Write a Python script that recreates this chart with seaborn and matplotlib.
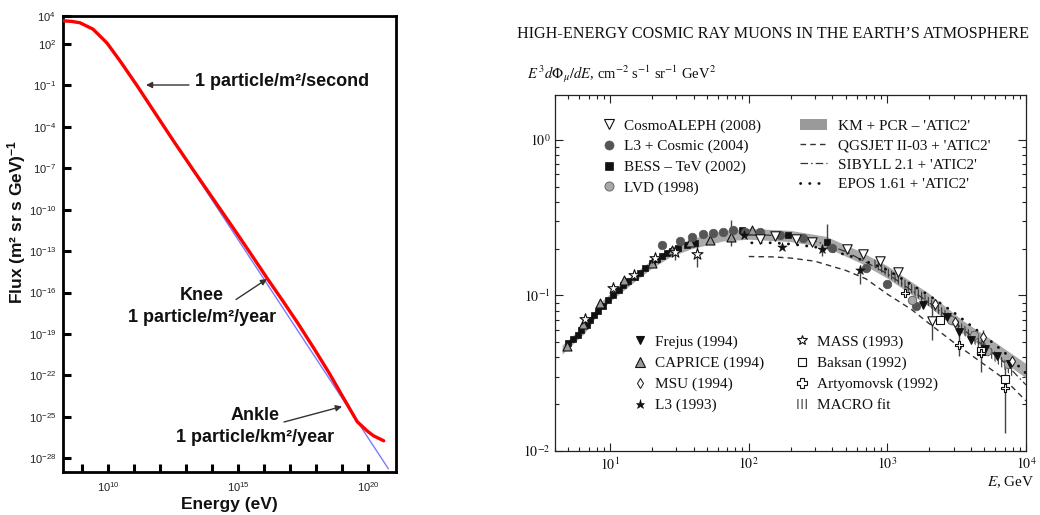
import numpy as np
import matplotlib
matplotlib.use("Agg")
import matplotlib.pyplot as plt
import seaborn as sns
from matplotlib.lines import Line2D
from matplotlib.patches import Patch
from matplotlib.ticker import FixedLocator, FixedFormatter, NullLocator, NullFormatter, LogLocator
from matplotlib.font_manager import FontProperties

sns.set_theme(style="white")
plt.rcParams["font.family"] = ["Liberation Sans", "DejaVu Sans"]
plt.rcParams["mathtext.fontset"] = "custom"
plt.rcParams["mathtext.rm"] = "Liberation Sans"
plt.rcParams["mathtext.it"] = "Liberation Sans:italic"
plt.rcParams["mathtext.bf"] = "Liberation Sans:bold"
plt.rcParams["hatch.linewidth"] = 0.8

# ---------------- left panel data (log10 values) -------------
spec_logE = [8.30, 8.60, 8.92, 9.42, 9.69, 9.96, 10.46, 11.12, 11.73, 12.50, 13.30, 14.0,
             14.96, 15.5, 16.12, 16.7, 17.3, 17.9, 18.5, 19.1, 19.57, 19.95, 20.2, 20.59]
spec_logF = [3.68, 3.64, 3.54, 3.08, 2.58, 2.07, 0.78, -1.03, -2.78, -4.98, -7.20, -9.11,
             -11.74, -13.24, -14.99, -16.57, -18.25, -20.02, -21.85, -23.82, -25.35, -26.02,
             -26.38, -26.74]
pl_logE = [11.12, 20.77]
pl_logF = [-1.03, -28.77]
left_xtick_exp = list(range(9, 21))
left_xlabel_exp = [10, 15, 20]
left_ytick_exp = [4, 2, -1, -4, -7, -10, -13, -16, -19, -22, -25, -28]

# ---------------- right panel data ----------------
band_E = [4.5, 5, 6.5, 8.7, 10.5, 15, 20, 27, 38, 65, 100, 200, 360, 630, 1000, 2000, 3500, 6200, 10000]
band_lo = [0.042, 0.046, 0.057, 0.082, 0.095, 0.123, 0.150, 0.177, 0.199, 0.224, 0.230, 0.222,
           0.204, 0.163, 0.129, 0.085, 0.057, 0.040, 0.0295]
band_hi = [0.048, 0.052, 0.065, 0.092, 0.107, 0.139, 0.170, 0.203, 0.231, 0.262, 0.270, 0.262,
           0.240, 0.193, 0.155, 0.103, 0.069, 0.049, 0.0365]

qgs_E = [100, 150, 200, 300, 500, 700, 1000, 1500, 2000, 3000, 5000, 7000, 10000]
qgs_F = [0.178, 0.177, 0.174, 0.166, 0.145, 0.128, 0.102, 0.081, 0.066, 0.050, 0.036, 0.029, 0.021]
sib_E = [100, 200, 300, 500, 1000, 2000, 3000, 5000, 7000, 10000]
sib_F = [0.248, 0.240, 0.224, 0.192, 0.138, 0.090, 0.068, 0.047, 0.037, 0.0266]
epos_E = [105, 150, 200, 300, 500, 700, 1000, 2000, 3000, 5000, 7000, 10000]
epos_F = [0.218, 0.218, 0.214, 0.205, 0.183, 0.166, 0.146, 0.100, 0.078, 0.055, 0.043, 0.0316]

macro_E = [800, 1000, 1500, 2000, 3000, 5000, 8000]
macro_lo = [0.152, 0.132, 0.103, 0.085, 0.063, 0.043, 0.030]
macro_hi = [0.172, 0.150, 0.118, 0.097, 0.073, 0.050, 0.035]

aleph_E = [120, 155, 220, 285, 510, 670, 885, 1190, 2100]
aleph_F = [0.232, 0.240, 0.232, 0.220, 0.200, 0.185, 0.167, 0.141, 0.069]
l3c_E = [23.5, 31.9, 38.7, 47, 55.5, 65.4, 77.3, 94, 120, 168, 248, 396, 703, 1000, 1600]
l3c_F = [0.211, 0.225, 0.237, 0.248, 0.251, 0.257, 0.264, 0.257, 0.257, 0.245, 0.233, 0.201, 0.151, 0.118, 0.085]
bess_E = [5.0, 5.4, 5.9, 6.2, 6.8, 7.2, 7.7, 8.2, 8.9, 9.7, 10.5, 11.5, 12.4, 13.5, 15.1, 16.4,
          17.8, 19.9, 21.7, 23.5, 25.6, 27.8, 31.0, 35.6, 40.9, 89, 193, 365]
bess_F = [0.0493, 0.0523, 0.0557, 0.060, 0.0646, 0.0695, 0.075, 0.0798, 0.0855, 0.0935, 0.1007,
          0.108, 0.117, 0.123, 0.132, 0.140, 0.150, 0.161, 0.171, 0.1795, 0.1867, 0.194, 0.201,
          0.2115, 0.219, 0.264, 0.245, 0.222]
lvd_E = [1500, 2900, 4200, 5200, 7400]
lvd_F = [0.094, 0.070, 0.056, 0.044, 0.036]
frejus_E = [1800, 2700, 3300, 4000, 5100, 6200, 7700]
frejus_F = [0.087, 0.073, 0.058, 0.052, 0.045, 0.041, 0.036]
caprice_E = [4.85, 6.4, 8.45, 12.5, 19.9, 27.8, 37.7, 52.5, 75, 105]
caprice_F = [0.047, 0.066, 0.089, 0.126, 0.161, 0.196, 0.222, 0.228, 0.239, 0.264]
msu_E = [2200, 3100, 4930, 7900]
msu_F = [0.088, 0.068, 0.054, 0.038]
l3_E = [92, 173, 336, 635]
l3_F = [0.245, 0.205, 0.198, 0.145]
mass_E = [6.6, 10.5, 14.9, 21.1, 29.4, 42]
mass_F = [0.071, 0.111, 0.1355, 0.173, 0.191, 0.186]
baksan_E = [2400, 4700, 7000]
baksan_F = [0.0695, 0.044, 0.029]
arty_E = [1330, 3300, 4700, 7000]
arty_F = [0.103, 0.048, 0.0425, 0.0255]

err_E = [29.4, 42, 75, 336, 365, 635, 2100, 3300, 4700, 4930, 7000]
err_lo = [0.169, 0.153, 0.208, 0.180, 0.200, 0.119, 0.052, 0.041, 0.032, 0.048, 0.013]
err_hi = [0.206, 0.215, 0.306, 0.215, 0.290, 0.158, 0.085, 0.058, 0.052, 0.060, 0.034]

right_xtick = [10, 100, 1000, 10000]
right_xlabels = [r"$10^{1}$", r"$10^{2}$", r"$10^{3}$", r"$10^{4}$"]
right_ytick = [0.01, 0.1, 1.0]
right_ylabels = [r"$10^{-2}$", r"$10^{-1}$", r"$10^{0}$"]

W, H = 1040, 515
fig = plt.figure(figsize=(W / 100, H / 100), dpi=100)
fig.patch.set_facecolor("white")

# ======================= LEFT PANEL =======================
ax1 = fig.add_axes([63 / W, (H - 472) / H, 332.7 / W, 456 / H])
ax1.set_facecolor("white")
ax1.set_xscale("log")
ax1.set_yscale("log")
ax1.set_xlim(10 ** 8.27, 10 ** 21.05)
ax1.set_ylim(1e-29, 10 ** 4.03)

sns.lineplot(x=10 ** np.array(pl_logE), y=10 ** np.array(pl_logF), ax=ax1, color="#7b7bff",
             lw=1.0, sort=False, estimator=None, zorder=2)
sns.lineplot(x=10 ** np.array(spec_logE), y=10 ** np.array(spec_logF), ax=ax1, color="#ff0000",
             lw=2.4, sort=False, estimator=None, zorder=3)

ax1.xaxis.set_major_locator(FixedLocator([10.0 ** e for e in left_xtick_exp]))
ax1.xaxis.set_major_formatter(FixedFormatter(
    [r"$10^{%d}$" % e if e in left_xlabel_exp else "" for e in left_xtick_exp]))
ax1.xaxis.set_minor_locator(NullLocator())
ax1.yaxis.set_major_locator(FixedLocator([10.0 ** e for e in left_ytick_exp]))
ax1.yaxis.set_major_formatter(FixedFormatter([r"$10^{%d}$" % e for e in left_ytick_exp]))
ax1.yaxis.set_minor_locator(NullLocator())
ax1.tick_params(axis="both", which="major", direction="in", length=6, width=2.2,
                color="black", labelsize=8, labelcolor="#222222")
ax1.tick_params(axis="x", pad=6)
ax1.tick_params(axis="y", pad=5)
ax1.tick_params(top=False, right=False, left=True, bottom=True)
for sp in ax1.spines.values():
    sp.set_visible(True)
    sp.set_color("black")
    sp.set_linewidth(2.0)
ax1.set_xlabel("")
ax1.set_ylabel("")

bold = dict(fontsize=13, fontweight="bold", color="#111111", family="Liberation Sans")
fig.text(17 / W, 1 - 222 / H, "Flux (m² sr s GeV)$^{\\mathbf{-1}}$", rotation=90,
         ha="center", va="center", fontsize=12.5, fontweight="bold", color="#111111",
         family="Liberation Sans")
fig.text(229 / W, 1 - 505 / H, "Energy (eV)", ha="center", va="center", fontsize=12.5,
         fontweight="bold", color="#111111", family="Liberation Sans")

def afx(px):
    return (px - 63) / 332.7

def afy(py):
    return (472 - py) / 456

arrow = dict(arrowstyle="-|>", color="#333333", lw=1.0, mutation_scale=9, shrinkA=0, shrinkB=0)
ax1.text(afx(195), afy(82), "1 particle/m²/second", transform=ax1.transAxes, ha="left", va="center", **bold)
ax1.annotate("", xy=(afx(146), afy(85)), xytext=(afx(189), afy(85)), xycoords="axes fraction",
             textcoords="axes fraction", arrowprops=arrow)
ax1.text(afx(202), afy(295), "Knee", transform=ax1.transAxes, ha="center", va="center", **bold)
ax1.text(afx(202), afy(318), "1 particle/m²/year", transform=ax1.transAxes, ha="center", va="center", **bold)
ax1.annotate("", xy=(afx(267), afy(279)), xytext=(afx(236), afy(299.5)), xycoords="axes fraction",
             textcoords="axes fraction", arrowprops=arrow)
ax1.text(afx(255), afy(416), "Ankle", transform=ax1.transAxes, ha="center", va="center", **bold)
ax1.text(afx(255), afy(438), "1 particle/km²/year", transform=ax1.transAxes, ha="center", va="center", **bold)
ax1.annotate("", xy=(afx(342), afy(406.5)), xytext=(afx(284), afy(422)), xycoords="axes fraction",
             textcoords="axes fraction", arrowprops=arrow)

# ======================= RIGHT PANEL =======================
ax2 = fig.add_axes([555 / W, (H - 451) / H, 471 / W, 356 / H])
ax2.set_facecolor("white")
ax2.set_xscale("log")
ax2.set_yscale("log")
ax2.set_xlim(4, 1e4)
ax2.set_ylim(0.01, 1.945)

ink = "#222222"
ax2.fill_between(band_E, band_lo, band_hi, color="#a9a9a9", lw=0, zorder=1)
ax2.fill_between(macro_E, macro_lo, macro_hi, facecolor="none", edgecolor="#333333",
                 hatch="|||||", lw=0, zorder=2)
sns.lineplot(x=qgs_E, y=qgs_F, ax=ax2, color="#333333", lw=1.0, dashes=False, sort=False,
             estimator=None, zorder=3).lines[-1].set_dashes((4, 3))
sns.lineplot(x=sib_E, y=sib_F, ax=ax2, color="#333333", lw=0.9, sort=False,
             estimator=None, zorder=3).lines[-1].set_dashes((6, 2.5, 1.2, 2.5))
l_epos = sns.lineplot(x=epos_E, y=epos_F, ax=ax2, color="#111111", lw=2.0, sort=False,
                      estimator=None, zorder=3).lines[-1]
l_epos.set_dashes((0.1, 3.2))
l_epos.set_dash_capstyle("round")

ax2.vlines(err_E, err_lo, err_hi, color="#444444", lw=1.0, zorder=4)

def sc(x, y, marker, fc, ec, s, lw=0.8, z=5):
    sns.scatterplot(x=x, y=y, ax=ax2, marker=marker, s=s, color=fc, edgecolor=ec,
                    linewidth=lw, zorder=z, legend=False)

sc(bess_E, bess_F, "s", "#111111", "#111111", 14, 0.5)
sc(caprice_E, caprice_F, "^", "#9a9a9a", "#111111", 42)
sc(l3c_E, l3c_F, "o", "#555555", "#555555", 38, 0.5)
sc(lvd_E, lvd_F, "o", "#a8a8a8", "#666666", 36, 0.7)
sc(aleph_E, aleph_F, "v", "white", "#111111", 46)
sc(frejus_E, frejus_F, "v", "#111111", "#111111", 30)
sc(msu_E, msu_F, "d", "white", "#111111", 26, 0.7)
sc(l3_E, l3_F, "*", "#111111", "#111111", 50, 0.4)
sc(mass_E, mass_F, "*", "white", "#111111", 70, 0.8)
sc(baksan_E, baksan_F, "s", "white", "#111111", 34, 0.8)
sc(arty_E, arty_F, "P", "white", "#111111", 40, 0.8)

ax2.xaxis.set_major_locator(FixedLocator(right_xtick))
ax2.xaxis.set_major_formatter(FixedFormatter(right_xlabels))
ax2.xaxis.set_minor_locator(LogLocator(base=10, subs=np.arange(2, 10), numticks=20))
ax2.xaxis.set_minor_formatter(NullFormatter())
ax2.yaxis.set_major_locator(FixedLocator(right_ytick))
ax2.yaxis.set_major_formatter(FixedFormatter(right_ylabels))
ax2.yaxis.set_minor_locator(LogLocator(base=10, subs=np.arange(2, 10), numticks=20))
ax2.yaxis.set_minor_formatter(NullFormatter())
ax2.tick_params(which="both", direction="in", top=True, right=True, left=True, bottom=True,
                color=ink, width=0.8, labelsize=10, labelcolor="#111111")
ax2.tick_params(which="major", length=6)
ax2.tick_params(which="minor", length=3)
ax2.tick_params(axis="x", pad=4)
ax2.tick_params(axis="y", pad=3)
for lab in ax2.get_xticklabels() + ax2.get_yticklabels():
    lab.set_math_fontfamily("stix")
    lab.set_family("Liberation Serif")
for sp in ax2.spines.values():
    sp.set_visible(True)
    sp.set_color(ink)
    sp.set_linewidth(0.9)
ax2.set_xlabel("")
ax2.set_ylabel("")

serif = dict(family="Liberation Serif", color="#111111", math_fontfamily="stix")
fig.text(517 / W, 1 - 34 / H, "HIGH-ENERGY COSMIC RAY MUONS IN THE EARTH\u2019S ATMOSPHERE",
         ha="left", va="center", fontsize=11.6, **serif)
fig.text(527 / W, 1 - 74 / H,
         r"$E^{\,3}d\Phi_{\mu}/dE$, cm$^{-2}$ s$^{-1}$ sr$^{-1}$ GeV$^{2}$",
         ha="left", va="center", fontsize=10.5, **serif)
fig.text(1035 / W, 1 - 482 / H, r"$E$, GeV", ha="right", va="center", fontsize=11, **serif)

# ---------- legends ----------
lprop = FontProperties(family="Liberation Serif", size=11)

def fx(px):
    return (px - 555) / 471

def fy(py):
    return (451 - py) / 356

def mk(marker, fc, ec, ms, mew=0.8):
    return Line2D([], [], marker=marker, ls="none", mfc=fc, mec=ec, ms=ms, mew=mew)

common = dict(frameon=False, prop=lprop, borderpad=0, borderaxespad=0, loc="upper left",
              handleheight=0.7, labelcolor="#111111")

h_ul = [mk("v", "white", "#111111", 7), mk("o", "#555555", "#555555", 6.5, 0.5),
        mk("s", "#111111", "#111111", 6, 0.5), mk("o", "#a8a8a8", "#666666", 6.5, 0.7)]
t_ul = ["CosmoALEPH (2008)", "L3 + Cosmic (2004)", "BESS \u2013 TeV (2002)", "LVD (1998)"]
leg1 = ax2.legend(h_ul, t_ul, bbox_to_anchor=(fx(602.5), fy(119)), handlelength=0.8,
                  handletextpad=0.62, labelspacing=0.44, **common)
ax2.add_artist(leg1)

h_ur = [Patch(facecolor="#9a9a9a", edgecolor="none"),
        Line2D([], [], color="#333333", lw=1.0, dashes=(4, 3)),
        Line2D([], [], color="#333333", lw=0.9, dashes=(6, 2.5, 1.2, 2.5)),
        Line2D([], [], color="#111111", lw=2.0, dashes=(0.1, 3.2), dash_capstyle="round")]
t_ur = ["KM + PCR \u2013 'ATIC2'", "QGSJET II-03 + 'ATIC2'", "SIBYLL 2.1 + 'ATIC2'", "EPOS 1.61 + 'ATIC2'"]
leg2 = ax2.legend(h_ur, t_ur, bbox_to_anchor=(fx(800), fy(119)), handlelength=1.75,
                  handletextpad=0.75, labelspacing=0.38, **common)
ax2.add_artist(leg2)

h_ll = [mk("v", "#111111", "#111111", 6), mk("^", "#9a9a9a", "#111111", 6.5),
        mk("d", "white", "#111111", 5.5, 0.7), mk("*", "#111111", "#111111", 6.5, 0.4)]
t_ll = ["Frejus (1994)", "CAPRICE (1994)", "MSU (1994)", "L3 (1993)"]
leg3 = ax2.legend(h_ll, t_ll, bbox_to_anchor=(fx(634), fy(335)), handlelength=0.8,
                  handletextpad=0.6, labelspacing=0.48, **common)
ax2.add_artist(leg3)

h_lr = [mk("*", "white", "#111111", 7.5, 0.8), mk("s", "white", "#111111", 5.5, 0.8),
        mk("P", "white", "#111111", 6.5, 0.8),
        Patch(facecolor="white", edgecolor="#333333", hatch="||||", lw=0)]
t_lr = ["MASS (1993)", "Baksan (1992)", "Artyomovsk (1992)", "MACRO fit"]
leg4 = ax2.legend(h_lr, t_lr, bbox_to_anchor=(fx(796), fy(335)), handlelength=0.8,
                  handletextpad=0.6, labelspacing=0.48, **common)

fig.savefig("out.png", dpi=100, facecolor="white")
